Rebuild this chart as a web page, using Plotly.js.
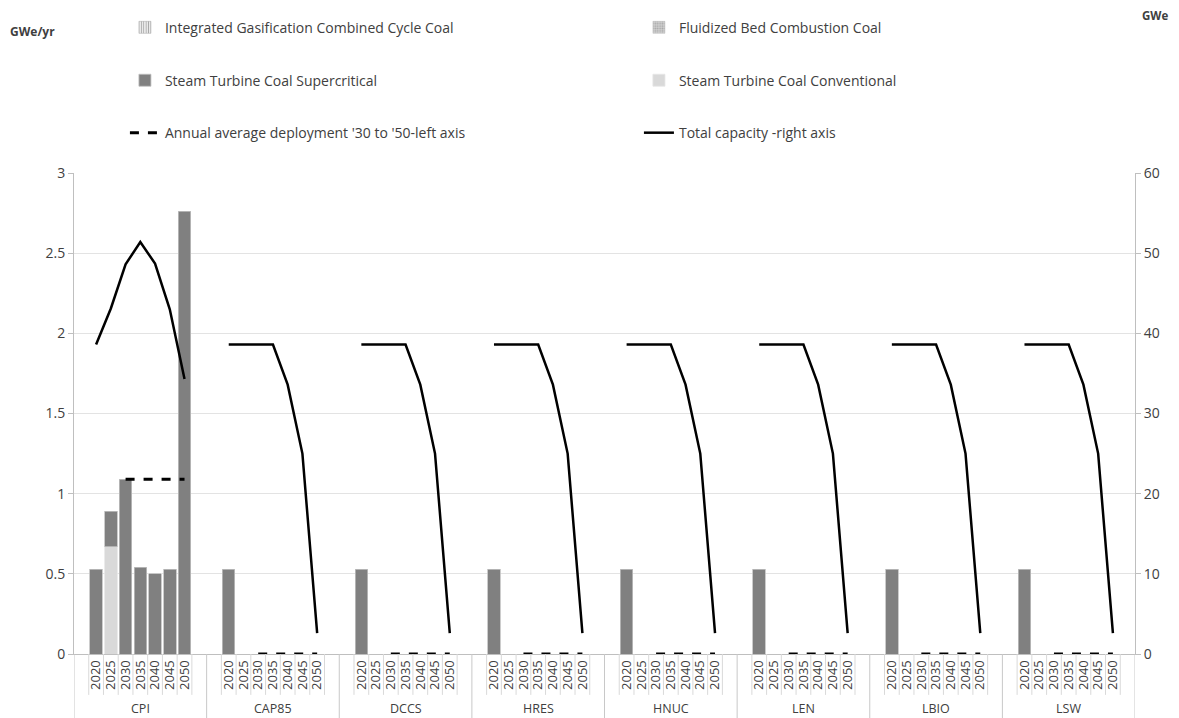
<!DOCTYPE html>
<html><head><meta charset="utf-8">
<script src="https://cdn.plot.ly/plotly-3.0.1.min.js"></script>
<style>html,body{margin:0;padding:0;background:#fff}#chart{width:1179px;height:718px}</style>
</head><body><div id="chart"></div>
<script>
const groups = ['CPI','CAP85','DCCS','HRES','HNUC','LEN','LBIO','LSW'];
const years = ['2020','2025','2030','2035','2040','2045','2050'];

const supercritical = [
  [0.53,0.22,1.09,0.54,0.50,0.53,2.76],
  [0.53,0,0,0,0,0,0],
  [0.53,0,0,0,0,0,0],
  [0.53,0,0,0,0,0,0],
  [0.53,0,0,0,0,0,0],
  [0.53,0,0,0,0,0,0],
  [0.53,0,0,0,0,0,0],
  [0.53,0,0,0,0,0,0]
];
const conventional = [
  [0,0.67,0,0,0,0,0],
  [0,0,0,0,0,0,0],
  [0,0,0,0,0,0,0],
  [0,0,0,0,0,0,0],
  [0,0,0,0,0,0,0],
  [0,0,0,0,0,0,0],
  [0,0,0,0,0,0,0],
  [0,0,0,0,0,0,0]
];
const igcc = [
  [0,0,0,0,0,0,0],[0,0,0,0,0,0,0],[0,0,0,0,0,0,0],[0,0,0,0,0,0,0],
  [0,0,0,0,0,0,0],[0,0,0,0,0,0,0],[0,0,0,0,0,0,0],[0,0,0,0,0,0,0]
];
const fbc = [
  [0,0,0,0,0,0,0],[0,0,0,0,0,0,0],[0,0,0,0,0,0,0],[0,0,0,0,0,0,0],
  [0,0,0,0,0,0,0],[0,0,0,0,0,0,0],[0,0,0,0,0,0,0],[0,0,0,0,0,0,0]
];
const avgDeployment = [
  [null,null,1.09,1.09,1.09,1.09,1.09],
  [null,null,0,0,0,0,0],
  [null,null,0,0,0,0,0],
  [null,null,0,0,0,0,0],
  [null,null,0,0,0,0,0],
  [null,null,0,0,0,0,0],
  [null,null,0,0,0,0,0],
  [null,null,0,0,0,0,0]
];
const totalCapacity = [
  [38.6,43.1,48.6,51.4,48.7,43.0,34.3],
  [38.6,38.6,38.6,38.6,33.6,25.0,2.6],
  [38.6,38.6,38.6,38.6,33.6,25.0,2.6],
  [38.6,38.6,38.6,38.6,33.6,25.0,2.6],
  [38.6,38.6,38.6,38.6,33.6,25.0,2.6],
  [38.6,38.6,38.6,38.6,33.6,25.0,2.6],
  [38.6,38.6,38.6,38.6,33.6,25.0,2.6],
  [38.6,38.6,38.6,38.6,33.6,25.0,2.6]
];

// categories: a blank slot before and after each scenario's years
const cats = [], yearCats = [];
groups.forEach(g => {
  cats.push(g + ' pre');
  years.forEach(y => { cats.push(g + ' ' + y); yearCats.push(g + ' ' + y); });
  cats.push(g + ' post');
});
function expand(arr) {
  const out = [];
  groups.forEach((g, i) => { out.push(null); arr[i].forEach(v => out.push(v)); out.push(null); });
  return out;
}
const slots = years.length + 2;

const FONT = 'Open Sans, Liberation Sans, sans-serif';
const TXT = '#404040';

const traces = [
  {type:'bar', name:'Integrated Gasification Combined Cycle Coal', x:cats, y:expand(igcc),
   marker:{color:'#f2f2f2', pattern:{shape:'|', fgcolor:'#a6a6a6', bgcolor:'#f2f2f2', size:3, solidity:0.4}, line:{color:'#a6a6a6', width:0.5}},
   legend:'legend', legendrank:1},
  {type:'bar', name:'Fluidized Bed Combustion Coal', x:cats, y:expand(fbc),
   marker:{color:'#c8c8c8', pattern:{shape:'.', fgcolor:'#a6a6a6', bgcolor:'#d0d0d0', size:3, solidity:0.4}, line:{color:'#bfbfbf', width:0.5}},
   legend:'legend', legendrank:2},
  {type:'bar', name:'Steam Turbine Coal Conventional', x:cats, y:expand(conventional),
   marker:{color:'#d9d9d9', line:{color:'#e6e6e6', width:0.8}},
   legend:'legend2', legendrank:2},
  {type:'bar', name:'Steam Turbine Coal Supercritical', x:cats, y:expand(supercritical),
   marker:{color:'#808080', line:{color:'#bfbfbf', width:0.8}},
   legend:'legend2', legendrank:1},
  {type:'scatter', mode:'lines', name:"Annual average deployment '30 to '50-left axis", x:cats, y:expand(avgDeployment),
   line:{color:'#000', width:3, dash:'dash'}, connectgaps:false, legend:'legend3', legendrank:1},
  {type:'scatter', mode:'lines', name:'Total capacity -right axis', x:cats, y:expand(totalCapacity), yaxis:'y2',
   line:{color:'#000', width:2.5}, connectgaps:false, legend:'legend3', legendrank:2}
];

const shapes = [];
for (let g = 0; g <= groups.length; g++) {
  shapes.push({type:'line', xref:'x', yref:'paper', x0:g*slots-0.5, x1:g*slots-0.5, y0:0, y1:-0.135,
    line:{color:'#c8c8c8', width:1}});
}
for (let g = 0; g < groups.length; g++) {
  for (let k = 0; k <= years.length; k++) {
    const xv = g*slots + 0.5 + k;
    shapes.push({type:'line', xref:'x', yref:'paper', x0:xv, x1:xv, y0:0, y1:-0.085,
      line:{color:'#d9d9d9', width:1}});
  }
}

const annotations = groups.map((g, i) => ({
  xref:'x', yref:'paper', x:i*slots + (slots-1)/2, y:-0.113, text:g, showarrow:false,
  yanchor:'middle', font:{family:FONT, size:12.5, color:TXT}
}));
annotations.push({xref:'paper', yref:'paper', x:-0.062, y:1.295, text:'<b>GWe/yr</b>', showarrow:false,
  xanchor:'left', yanchor:'middle', font:{family:FONT, size:12, color:TXT}});
annotations.push({xref:'paper', yref:'paper', x:1.005, y:1.328, text:'<b>GWe</b>', showarrow:false,
  xanchor:'left', yanchor:'middle', font:{family:FONT, size:11.5, color:TXT}});

const legBase = {orientation:'h', xanchor:'left', yanchor:'middle', x:0.048,
  entrywidth:469, entrywidthmode:'pixels', font:{family:FONT, size:14, color:TXT},
  bgcolor:'rgba(0,0,0,0)', traceorder:'normal'};

const layout = {
  width:1179, height:718,
  margin:{l:74, r:44, t:171, b:64},
  paper_bgcolor:'#fff', plot_bgcolor:'#fff',
  barmode:'stack', bargap:0.15,
  font:{family:FONT, size:13, color:TXT},
  xaxis:{type:'category', categoryorder:'array', categoryarray:cats,
    range:[-0.5, cats.length-0.5],
    tickmode:'array', tickvals:yearCats, ticktext:yearCats.map(c => c.split(' ')[1]),
    tickangle:-90, ticks:'', showgrid:false, showline:true, linecolor:'#bfbfbf', linewidth:1,
    tickfont:{family:FONT, size:13, color:TXT}, zeroline:false, fixedrange:true},
  yaxis:{range:[0,3], dtick:0.5, showgrid:true, gridcolor:'#e3e3e3', gridwidth:1,
    showline:true, linecolor:'#bfbfbf', ticks:'outside', ticklen:5, tickcolor:'#bfbfbf',
    zeroline:false, tickfont:{family:FONT, size:14, color:TXT}},
  yaxis2:{range:[0,60], dtick:10, overlaying:'y', side:'right', showgrid:false,
    showline:true, linecolor:'#bfbfbf', ticks:'outside', ticklen:5, tickcolor:'#bfbfbf',
    zeroline:false, tickfont:{family:FONT, size:14, color:TXT}},
  legend:Object.assign({}, legBase, {y:1.302}),
  legend2:Object.assign({}, legBase, {y:1.192}),
  legend3:Object.assign({}, legBase, {y:1.083}),
  shapes:shapes,
  annotations:annotations,
  showlegend:true
};

Plotly.newPlot('chart', traces, layout, {displayModeBar:false, staticPlot:true});
</script></body></html>
